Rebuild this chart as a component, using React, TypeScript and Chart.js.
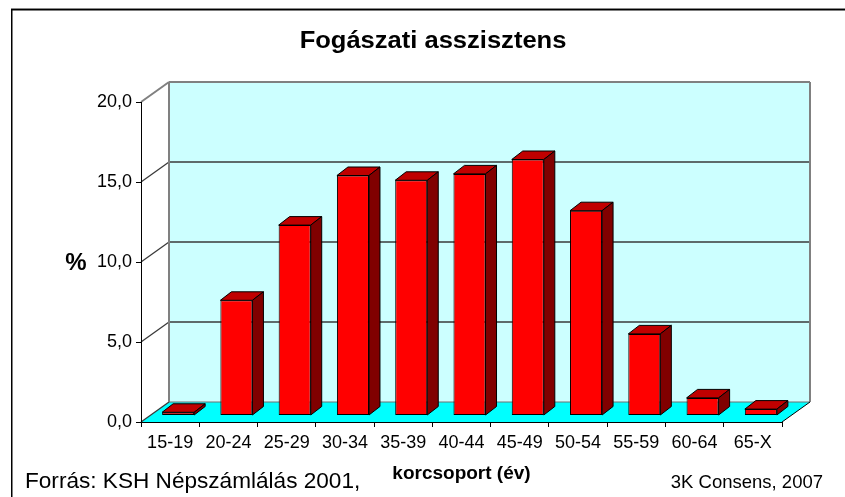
import React, { useEffect, useRef } from 'react';
import { Chart, registerables } from 'chart.js';

Chart.register(...registerables);

const categories = ['15-19', '20-24', '25-29', '30-34', '35-39', '40-44', '45-49', '50-54', '55-59', '60-64', '65-X'];
const shares = [0.2, 7.2, 11.9, 15.0, 14.7, 15.1, 16.0, 12.8, 5.1, 1.1, 0.4];
const yTickLabels = ['0,0', '5,0', '10,0', '15,0', '20,0'];
const titleText = 'Fogászati asszisztens';
const xAxisTitle = 'korcsoport (év)';
const yAxisTitle = '%';
const sourceText = 'Forrás: KSH Népszámlálás 2001,';
const creditText = '3K Consens, 2007';

const FONT = '"Liberation Sans", Arial, Helvetica, sans-serif';
const W = 845;
const H = 497;
const WALL_DX = 28;
const WALL_DY = -20;
const BAR_DX = 8;
const BAR_DY = -6.5;
const TOP_DX = 11;
const TOP_DY = -8.5;
const TITLE_STRETCH = 1.11;

const excel3d = {
  id: 'excel3d',
  beforeDraw(chart: any) {
    const { ctx, chartArea: a, scales } = chart;
    const y = scales.y;
    ctx.save();
    ctx.fillStyle = '#ffffff';
    ctx.fillRect(0, 0, W, H);
    // outer frame
    ctx.fillStyle = '#8a8a8a';
    ctx.fillRect(11, 8, W - 11, 1);
    ctx.fillStyle = '#000000';
    ctx.fillRect(11, 9, W - 11, 1.5);
    ctx.fillRect(11, 9, 1.5, H - 9);

    const bl = a.left + WALL_DX;
    const br = a.right + WALL_DX;
    const bt = a.top + WALL_DY;
    const bb = a.bottom + WALL_DY;
    // back wall
    ctx.fillStyle = '#CCFFFF';
    ctx.fillRect(bl, bt, br - bl, bb - bt);
    // floor
    ctx.fillStyle = '#00FFFF';
    ctx.beginPath();
    ctx.moveTo(a.left, a.bottom);
    ctx.lineTo(a.right, a.bottom);
    ctx.lineTo(br, bb);
    ctx.lineTo(bl, bb);
    ctx.closePath();
    ctx.fill();

    // gridlines on the wall and diagonals on the side
    const maxV = y.max;
    y.ticks.forEach((t: any) => {
      const py = y.getPixelForValue(t.value);
      const isTop = t.value === maxV;
      ctx.strokeStyle = isTop ? '#808080' : '#3a3a3a';
      ctx.lineWidth = isTop ? 2 : 1.3;
      ctx.beginPath();
      ctx.moveTo(a.left, py);
      ctx.lineTo(bl, py + WALL_DY);
      ctx.stroke();
      if (t.value !== 0) {
        ctx.beginPath();
        ctx.moveTo(bl, py + WALL_DY);
        ctx.lineTo(br, py + WALL_DY);
        ctx.stroke();
      }
    });
    // wall edges
    ctx.strokeStyle = '#808080';
    ctx.lineWidth = 2;
    ctx.beginPath();
    ctx.moveTo(bl, bb);
    ctx.lineTo(bl, bt);
    ctx.moveTo(br, bt);
    ctx.lineTo(br, bb);
    ctx.stroke();
    ctx.lineWidth = 1;
    ctx.strokeStyle = '#707070';
    ctx.beginPath();
    ctx.moveTo(bl, bb);
    ctx.lineTo(br, bb);
    ctx.stroke();
    // floor right edge
    ctx.strokeStyle = '#000000';
    ctx.lineWidth = 1;
    ctx.beginPath();
    ctx.moveTo(a.right, a.bottom);
    ctx.lineTo(br, bb);
    ctx.stroke();
    ctx.restore();
  },
  beforeDatasetsDraw(chart: any) {
    chart.ctx.save();
    chart.ctx.translate(BAR_DX, BAR_DY);
  },
  afterDatasetsDraw(chart: any) {
    const ctx = chart.ctx;
    ctx.restore();
    const meta = chart.getDatasetMeta(0);
    ctx.save();
    ctx.lineWidth = 1;
    ctx.strokeStyle = '#000000';
    ctx.lineJoin = 'miter';
    meta.data.forEach((el: any) => {
      const p = el.getProps(['x', 'y', 'base', 'width'], true);
      const left = p.x - p.width / 2 + BAR_DX;
      const right = p.x + p.width / 2 + BAR_DX;
      const top = p.y + BAR_DY;
      const bottom = p.base + BAR_DY;
      // top face
      ctx.fillStyle = '#C00000';
      ctx.beginPath();
      ctx.moveTo(left, top);
      ctx.lineTo(left + TOP_DX, top + TOP_DY);
      ctx.lineTo(right + TOP_DX, top + TOP_DY);
      ctx.lineTo(right, top);
      ctx.closePath();
      ctx.fill();
      ctx.stroke();
      // side face
      ctx.fillStyle = '#800000';
      ctx.beginPath();
      ctx.moveTo(right, top);
      ctx.lineTo(right + TOP_DX, top + TOP_DY);
      ctx.lineTo(right + TOP_DX, bottom + TOP_DY);
      ctx.lineTo(right, bottom);
      ctx.closePath();
      ctx.fill();
      ctx.stroke();
    });
    ctx.restore();
  },
  afterDraw(chart: any) {
    const { ctx, chartArea: a } = chart;
    ctx.save();
    ctx.fillStyle = '#000000';
    ctx.textBaseline = 'alphabetic';
    ctx.textAlign = 'center';
    ctx.font = `bold 23px ${FONT}`;
    ctx.save();
    ctx.translate(433, 47.5);
    ctx.scale(TITLE_STRETCH, 1);
    ctx.fillText(titleText, 0, 0);
    ctx.restore();
    ctx.font = `bold 24px ${FONT}`;
    ctx.textBaseline = 'middle';
    ctx.fillText(yAxisTitle, 76, (a.top + a.bottom) / 2 + 1);
    ctx.textBaseline = 'alphabetic';
    ctx.textAlign = 'left';
    ctx.font = `22.6px ${FONT}`;
    ctx.fillText(sourceText, 25, 488);
    ctx.textAlign = 'right';
    ctx.font = `18.5px ${FONT}`;
    ctx.fillText(creditText, 823, 487.5);
    ctx.restore();
  },
};

export default function App() {
  const ref = useRef<HTMLCanvasElement | null>(null);
  useEffect(() => {
    if (!ref.current) return;
    const chart = new Chart(ref.current, {
      type: 'bar',
      data: {
        labels: categories,
        datasets: [
          {
            data: shares,
            backgroundColor: '#FF0000',
            borderColor: '#000000',
            borderWidth: 1,
            borderSkipped: false,
            barPercentage: 0.55,
            categoryPercentage: 1,
            clip: false as any,
          },
        ],
      },
      options: {
        responsive: false,
        animation: false,
        devicePixelRatio: 1,
        layout: { padding: { top: 102, right: 63, bottom: 0, left: 0 } },
        plugins: {
          legend: { display: false },
          title: { display: false },
          tooltip: { enabled: false },
        },
        scales: {
          x: {
            grid: { offset: true, drawOnChartArea: false, drawTicks: true, tickLength: 5, color: '#000000' },
            border: { display: true, color: '#000000', width: 1 },
            ticks: { color: '#000000', font: { family: FONT, size: 18 }, padding: 5, maxRotation: 0, autoSkip: false },
            title: {
              display: true,
              text: xAxisTitle,
              color: '#000000',
              font: { family: FONT, size: 19, weight: 'bold' },
              padding: { top: 0, bottom: 12 },
            },
            afterFit: (s: any) => {
              s.height = 75;
            },
          },
          y: {
            min: 0,
            max: 20,
            grid: { drawOnChartArea: false, drawTicks: true, tickLength: 5, color: '#000000' },
            border: { display: true, color: '#000000', width: 1 },
            ticks: {
              stepSize: 5,
              color: '#000000',
              font: { family: FONT, size: 18 },
              padding: 4,
              callback: (_v: any, i: number) => yTickLabels[i],
            },
            afterFit: (s: any) => {
              s.width = 141;
            },
          },
        },
      } as any,
      plugins: [excel3d],
    });
    return () => chart.destroy();
  }, []);
  return (
    <div style={{ position: 'fixed', left: 0, top: 0, width: W, height: H }}>
      <canvas ref={ref} width={W} height={H} style={{ display: 'block' }} />
    </div>
  );
}
